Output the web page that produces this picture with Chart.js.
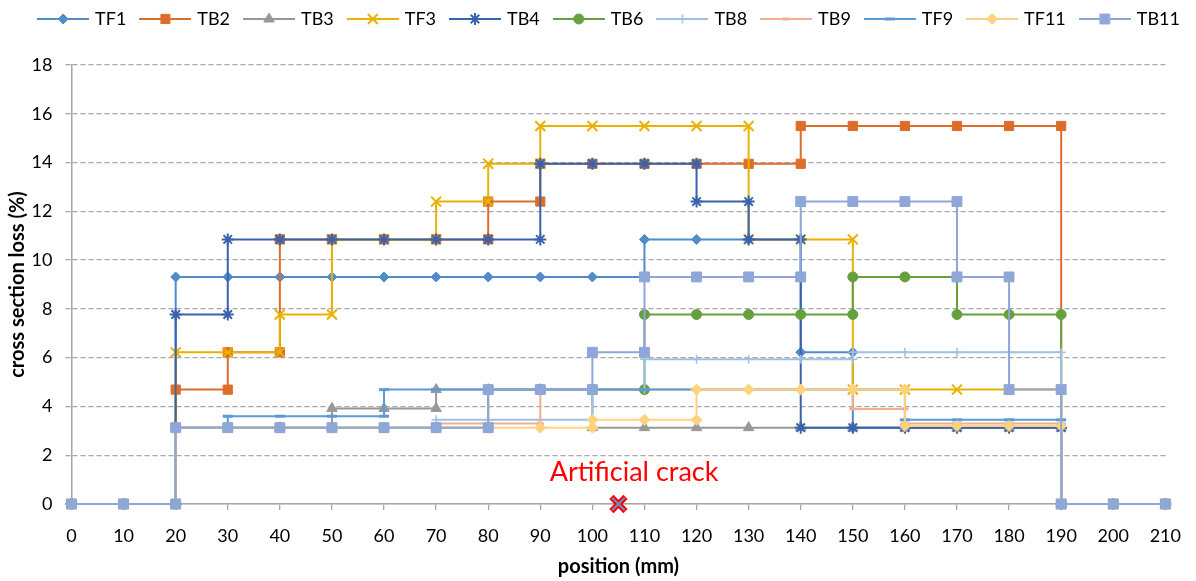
<!DOCTYPE html>
<html lang="en">
<head>
<meta charset="UTF-8">
<title>Cross section loss along position</title>
<script src="https://cdn.jsdelivr.net/npm/chart.js"></script>
<style>
  html, body { margin: 0; padding: 0; background: #fff; }
  #wrap { width: 1196px; height: 581px; }
</style>
</head>
<body>
<div id="wrap"><canvas id="lossChart"></canvas></div>
<script>
// measuring positions along the specimen (mm)
const positions = [0, 10, 20, 30, 40, 50, 60, 70, 80, 90, 100, 110, 120, 130, 140, 150, 160, 170, 180, 190, 200, 210];
const xTicks = { min: 0, max: 210, step: 10 };
const yTicks = { min: 0, max: 18, step: 2 };

// cross section loss (%) on each 10 mm segment: value i is between positions[i] and positions[i+1]
const tf1  = [0, 0, 9.31, 9.31, 9.31, 9.31, 9.31, 9.31, 9.31, 9.31, 9.31, 10.85, 10.85, 10.85, 6.22, 3.13, 3.13, 3.13, 3.13, 0, 0];
const tb2  = [0, 0, 4.69, 6.22, 10.85, 10.85, 10.85, 10.85, 12.4, 13.95, 13.95, 13.95, 13.95, 13.95, 15.5, 15.5, 15.5, 15.5, 15.5, 0, 0];
const tb3  = [0, 0, 3.13, 3.13, 3.13, 3.92, 3.92, 4.69, 4.69, 4.69, 3.13, 3.13, 3.13, 3.13, 3.13, 3.13, 3.13, 3.13, 3.13, 0, 0];
const tf3  = [0, 0, 6.22, 6.22, 7.77, 10.85, 10.85, 12.4, 13.95, 15.5, 15.5, 15.5, 15.5, 10.85, 10.85, 4.69, 4.69, 4.69, 4.69, 0, 0];
const tb4  = [0, 0, 7.77, 10.85, 10.85, 10.85, 10.85, 10.85, 10.85, 13.95, 13.95, 13.95, 12.4, 10.85, 3.13, 3.13, 3.13, 3.13, 3.13, 0, 0];
const tb6  = [0, 0, 3.13, 3.13, 3.13, 3.13, 3.13, 3.13, 4.69, 4.69, 4.69, 7.77, 7.77, 7.77, 7.77, 9.31, 9.31, 7.77, 7.77, 0, 0];
const tb8  = [0, 0, 3.13, 3.13, 3.13, 3.13, 3.13, 3.45, 3.45, 3.45, 4.69, 5.93, 5.93, 5.93, 5.93, 6.22, 6.22, 6.22, 6.22, 0, 0];
const tb9  = [0, 0, 3.13, 3.13, 3.13, 3.13, 3.13, 3.3, 3.3, 4.69, 4.69, 4.69, 4.69, 4.69, 4.69, 3.9, 3.3, 3.3, 3.3, 0, 0];
const tf9  = [0, 0, 3.13, 3.6, 3.6, 3.6, 4.69, 4.69, 4.69, 4.69, 4.69, 4.69, 4.69, 4.69, 4.69, 4.69, 3.45, 3.45, 3.45, 0, 0];
const tf11 = [0, 0, 3.13, 3.13, 3.13, 3.13, 3.13, 3.13, 3.13, 3.13, 3.45, 3.45, 4.69, 4.69, 4.69, 4.69, 3.2, 3.2, 3.2, 0, 0];
const tb11 = [0, 0, 3.13, 3.13, 3.13, 3.13, 3.13, 3.13, 4.69, 4.69, 6.22, 9.31, 9.31, 9.31, 12.4, 12.4, 12.4, 9.31, 4.69, 0, 0];

// artificial crack location
const crackPos = 105;
const crackLabel = 'Artificial crack';

const FONT = 'Lato';
const plotTop = 65;
const legendShiftY = -6;
const legendSpan = { left: -20, right: 1240 };

// series look (Excel style markers)
const series = [
  { label: 'TF1',  levels: tf1,  color: '#4F8CC9', style: 'rectRot',  r: 5,   bw: 1 },
  { label: 'TB2',  levels: tb2,  color: '#DC6E2A', style: 'rect',     r: 6.5, bw: 1 },
  { label: 'TB3',  levels: tb3,  color: '#989898', style: 'triangle', r: 6,   bw: 1 },
  { label: 'TF3',  levels: tf3,  color: '#E9B100', style: 'crossRot', r: 7,   bw: 2 },
  { label: 'TB4',  levels: tb4,  color: '#3A63AE', style: 'star',     r: 6,   bw: 2 },
  { label: 'TB6',  levels: tb6,  color: '#66A03D', style: 'circle',   r: 5,   bw: 1 },
  { label: 'TB8',  levels: tb8,  color: '#9DC0E4', style: 'cross',    r: 4.5, bw: 1.5 },
  { label: 'TB9',  levels: tb9,  color: '#F4AD8E', style: 'line',     r: 3.5, bw: 3 },
  { label: 'TF9',  levels: tf9,  color: '#5A9BD8', style: 'line',     r: 5,   bw: 3 },
  { label: 'TF11', levels: tf11, color: '#FFD37D', style: 'rectRot',  r: 5.5, bw: 1 },
  { label: 'TB11', levels: tb11, color: '#8FA6D8', style: 'rect',     r: 7,   bw: 1 }
];

// step profile: a point at every position, two points where the level jumps
function stepPoints(levels) {
  const pts = [];
  positions.forEach((x, i) => {
    const before = i > 0 ? levels[i - 1] : null;
    const after = i < levels.length ? levels[i] : null;
    if (before !== null) pts.push({ x: x, y: before });
    if (after !== null && after !== before) pts.push({ x: x, y: after });
  });
  return pts;
}

// legend symbol = short line with the marker in the middle
function legendIcon(s) {
  const c = document.createElement('canvas');
  c.width = 52; c.height = 16;
  const g = c.getContext('2d');
  g.strokeStyle = s.color; g.fillStyle = s.color; g.lineWidth = 2;
  g.beginPath(); g.moveTo(0, 8); g.lineTo(52, 8); g.stroke();
  g.lineWidth = s.bw;
  Chart.helpers.drawPoint(g, { pointStyle: s.style, radius: s.r, borderWidth: s.bw, rotation: 0 }, 26, 8);
  return c;
}
const icons = series.map(legendIcon);

const datasets = series.map((s, i) => ({
  label: s.label,
  data: stepPoints(s.levels),
  showLine: true,
  borderColor: s.color,
  backgroundColor: s.color,
  borderWidth: 2,
  pointStyle: s.style,
  pointRadius: s.r,
  pointBorderWidth: s.bw,
  pointBackgroundColor: s.color,
  pointBorderColor: s.color,
  pointHoverRadius: s.r,
  clip: false,
  order: series.length - i
}));

// crack marker: red X with blue core
datasets.push({
  label: 'crack', data: [{ x: crackPos, y: 0 }], showLine: false,
  pointStyle: 'crossRot', pointRadius: 10, pointBorderWidth: 6,
  pointBorderColor: '#FF0000', pointBackgroundColor: '#FF0000', clip: false, order: -1
});
datasets.push({
  label: 'crackCore', data: [{ x: crackPos, y: 0 }], showLine: false,
  pointStyle: 'crossRot', pointRadius: 9, pointBorderWidth: 2,
  pointBorderColor: '#5B9BD5', pointBackgroundColor: '#5B9BD5', clip: false, order: -2
});

const crackText = {
  id: 'crackText',
  afterDatasetsDraw(chart) {
    const { ctx, scales } = chart;
    ctx.save();
    ctx.font = '27px ' + FONT;
    ctx.fillStyle = '#FF0000';
    ctx.textAlign = 'center';
    ctx.textBaseline = 'middle';
    ctx.fillText(crackLabel, scales.x.getPixelForValue(108), scales.y.getPixelForValue(1.28));
    ctx.restore();
  }
};

// keep the legend on one row and tall enough so the plot starts at plotTop
const legendBox = {
  id: 'legendBox',
  beforeInit(chart) {
    const lg = chart.legend;
    if (!lg) return;
    const fit = lg.fit;
    lg.fit = function () {
      const w = this.maxWidth;
      this.maxWidth = w + 200;
      fit.call(this);
      this.maxWidth = w;
      this.width = w;
      this.height = plotTop;
    };
  },
  afterLayout(chart) {
    const lg = chart.legend;
    if (!lg) return;
    // row centred a bit right of the plot centre, as in the Excel original
    lg.left = legendSpan.left;
    lg.right = legendSpan.right;
    lg.top += legendShiftY;
  }
};

const gridColor = '#A6A6A6';

new Chart(document.getElementById('lossChart'), {
  type: 'scatter',
  data: { datasets: datasets },
  options: {
    responsive: true,
    maintainAspectRatio: false,
    animation: false,
    layout: { padding: { left: 4, right: 25, top: 0, bottom: 2 } },
    plugins: {
      tooltip: { enabled: false },
      legend: {
        position: 'top',
        labels: {
          usePointStyle: true,
          pointStyleWidth: 46,
          padding: 16,
          color: '#000',
          font: { family: FONT, size: 18 },
          generateLabels(chart) {
            const items = Chart.defaults.plugins.legend.labels.generateLabels(chart);
            return items
              .filter(it => it.datasetIndex < series.length)
              .sort((a, b) => a.datasetIndex - b.datasetIndex)
              .map(it => Object.assign(it, { pointStyle: icons[it.datasetIndex] }));
          }
        }
      }
    },
    scales: {
      x: {
        type: 'linear',
        min: xTicks.min, max: xTicks.max,
        afterBuildTicks(scale) {
          scale.ticks = positions.map(v => ({ value: v }));
        },
        afterFit(scale) { scale.height = 75; },
        ticks: { stepSize: xTicks.step, color: '#000', font: { family: FONT, size: 18 }, padding: 15, maxRotation: 0 },
        grid: { drawOnChartArea: false, drawTicks: true, tickLength: 6, color: gridColor, lineWidth: 1.3 },
        border: { color: gridColor, width: 1.5 },
        title: { display: true, text: 'position (mm)', color: '#000', font: { family: FONT, size: 20, weight: 'bold' }, padding: { top: 4, bottom: 0 } }
      },
      y: {
        type: 'linear',
        min: yTicks.min, max: yTicks.max,
        afterFit(scale) { scale.width = 67.5; },
        ticks: { stepSize: yTicks.step, color: '#000', font: { family: FONT, size: 18 }, padding: 13 },
        grid: { color: gridColor, lineWidth: 1.3, tickLength: 6, tickBorderDash: [5, 3] },
        border: { color: gridColor, width: 1.5, dash: [5, 3] },
        title: { display: true, text: 'cross section loss (%)', color: '#000', font: { family: FONT, size: 20, weight: 'bold' }, padding: { top: 2, bottom: 4 } }
      }
    }
  },
  plugins: [crackText, legendBox]
});
</script>
</body>
</html>
